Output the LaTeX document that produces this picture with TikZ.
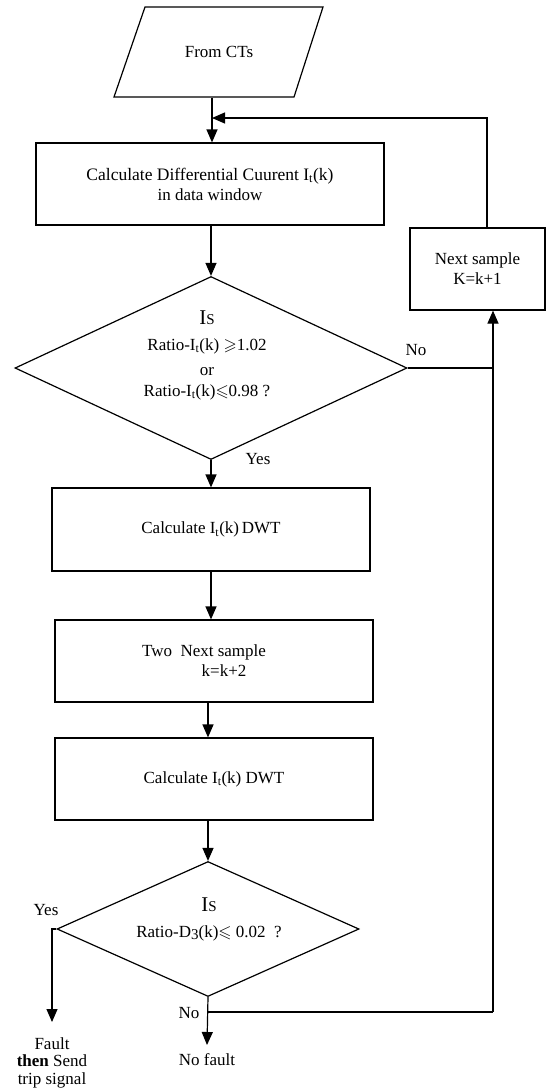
\documentclass[tikz,border=0pt]{standalone}
\usepackage{fontspec}
\usepackage{amssymb}
\setmainfont{Liberation Serif}
\usetikzlibrary{arrows.meta,shapes.geometric}
\begin{document}
\begin{tikzpicture}[x=1pt,y=-1pt,
  every node/.style={font=\fontsize{17}{20}\selectfont},
  line width=1.2pt,
  boxnode/.style={draw, rectangle, inner sep=0pt, line width=1.2pt, align=center},
  decnode/.style={draw, diamond, inner sep=0pt, line width=1.2pt},
  arr/.style={-{Triangle[length=13pt,width=11pt]}},
  lbl/.style={inner sep=0pt}
]
\useasboundingbox (0,0) rectangle (553,1088);

% input parallelogram
\node[inner sep=0pt, minimum width=180pt, minimum height=90pt] (ct) at (219,52) {From CTs};
\draw (ct.center) ++(-105,45) -- ++(31,-90) -- ++(178,0) -- ++(-29,90) -- cycle;

% boxes
\node[boxnode, minimum width=348pt, minimum height=82pt] (b1) at (210,184)
  {\fontsize{17.5}{20}\selectfont Calculate Differential Cuurent I\textsubscript{t}(k)\\in data window};
\node[boxnode, minimum width=135pt, minimum height=82pt] (ns) at (477.5,269)
  {Next sample\\K=k+1};
\node[boxnode, minimum width=318pt, minimum height=83pt] (b2) at (211,529.5)
  {Calculate I\textsubscript{t}(k)\,DWT};
\node[boxnode, minimum width=318pt, minimum height=82pt] (b3) at (214,661)
  {Two~~Next sample\hspace*{20pt}\\\hspace*{20pt}k=k+2};
\node[boxnode, minimum width=318pt, minimum height=82pt] (b4) at (214,779)
  {Calculate I\textsubscript{t}(k) DWT};

% decisions
\node[decnode, minimum width=392pt, minimum height=183pt] (d1) at (211,368) {};
\node[align=center, inner sep=0pt] (d1text) at (207,355)
  {{\fontsize{21}{21}\selectfont I}{\fontsize{15}{15}\selectfont S}\\[6pt]
   Ratio-I\textsubscript{t}(k) $\geqslant$1.02\\[5pt]
   or\\[1pt]
   Ratio-I\textsubscript{t}(k)$\leqslant$0.98 ?};
\node[decnode, minimum width=302pt, minimum height=135pt] (d2) at (208,929) {};
\node[align=center, inner sep=0pt] (d2text) at (209,919)
  {{\fontsize{21}{21}\selectfont I}{\fontsize{15}{15}\selectfont S}\\[6pt]
   Ratio-D\raisebox{-0.35ex}{\fontsize{15}{15}\selectfont 3}(k)$\leqslant$ 0.02\ \ ?};

% terminal texts
\node[align=center, inner sep=0pt, anchor=north, font=\fontsize{17}{17.5}\selectfont] (fault) at (52,1037)
  {Fault\\\textbf{then} Send\\trip signal};
\node[inner sep=0pt, anchor=north] (nf) at (207,1053) {No fault};

% labels
\node[lbl] (lno1) at (416,350) {No};
\node[lbl] (lyes1) at (258,459) {Yes};
\node[lbl] (lyes2) at (46,910) {Yes};
\node[lbl] (lno2) at (189,1013) {No};

% helper coordinates
\coordinate (c1) at (212,0);
\coordinate (lp) at (487,118);
\coordinate (rv) at (493,1012);
\coordinate (fy) at (52,1022);
\coordinate (nfy) at (207,1045);

% connectors
\draw[arr] (ct.south -| c1) -- (b1.north -| c1);
\draw[arr] (ns.north -| lp) -- (lp) -- (lp -| c1);
\draw[arr] (d1.north |- b1.south) -- (d1.north);
\draw (d1.east) -- (d1.east -| rv);
\draw[arr] (rv) -- (rv |- ns.south);
\draw (d2.south |- rv) -- (rv);
\draw[arr] (d1.south) -- (d1.south |- b2.north);
\draw[arr] (b2.south) -- (b2.south |- b3.north);
\draw[arr] (d2.north |- b3.south) -- (d2.north |- b4.north);
\draw[arr] (d2.north |- b4.south) -- (d2.north);
\draw[arr] (d2.west) -| (fy);
\draw[arr] (d2.south) -- (nfy);
\end{tikzpicture}
\end{document}
